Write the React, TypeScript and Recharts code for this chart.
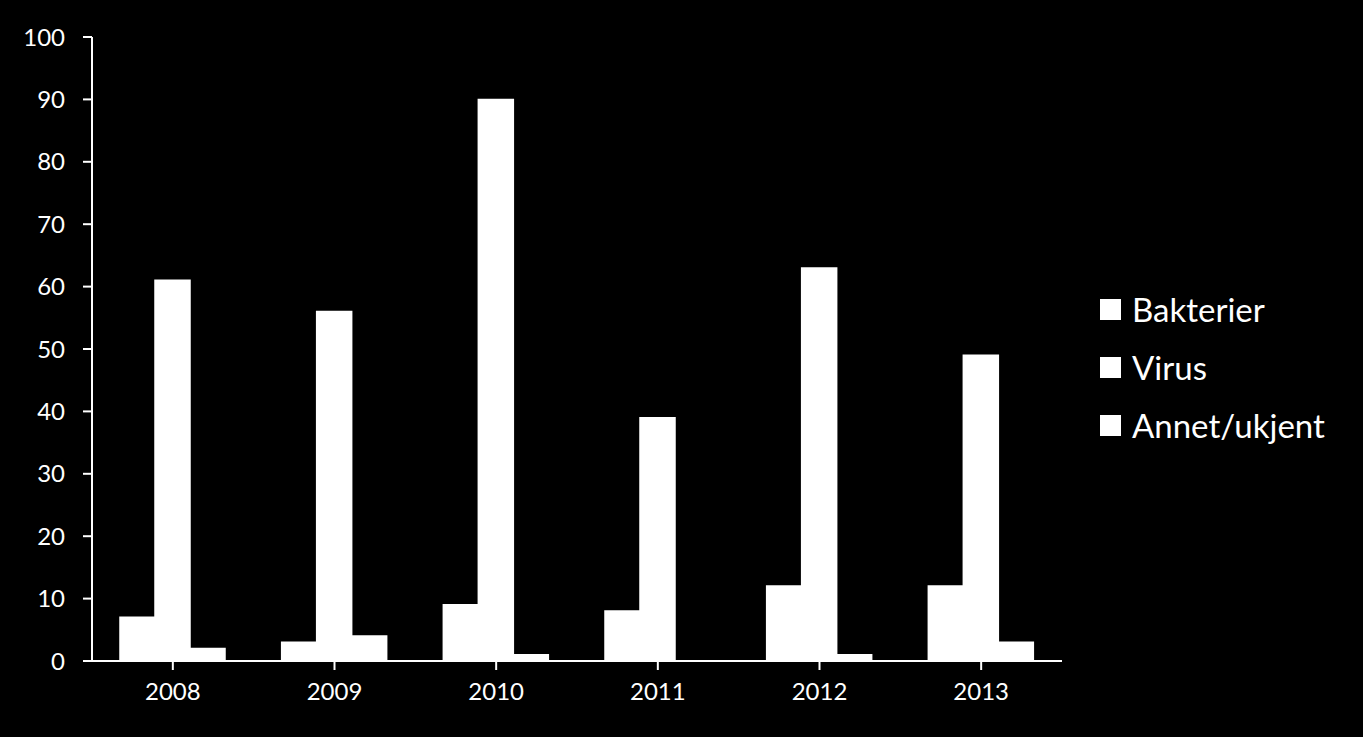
import React from "react";
import {
  BarChart,
  Bar,
  XAxis,
  YAxis,
  Legend,
} from "recharts";

const years = ["2008", "2009", "2010", "2011", "2012", "2013"];
const bakterier = [7, 3, 9, 8, 12, 12];
const virus = [61, 56, 90, 39, 63, 49];
const annet = [2, 4, 1, 0, 1, 3];
const yTicks = [0, 10, 20, 30, 40, 50, 60, 70, 80, 90, 100];
const seriesNames = ["Bakterier", "Virus", "Annet/ukjent"];

const data = years.map((year, i) => ({
  year,
  Bakterier: bakterier[i],
  Virus: virus[i],
  "Annet/ukjent": annet[i],
}));

const FONT = "Lato, 'Open Sans', sans-serif";

function LegendBox(props: any) {
  const payload = props.payload || [];
  const ordered = seriesNames
    .map((name) => payload.find((p: any) => p.value === name))
    .filter(Boolean);
  return (
    <div style={{ fontFamily: FONT }}>
      {ordered.map((entry: any) => (
        <div
          key={entry.value}
          style={{ display: "flex", alignItems: "center", height: 58 }}
        >
          <span
            style={{
              display: "inline-block",
              width: 21,
              height: 21,
              background: "#ffffff",
              marginRight: 11,
            }}
          />
          <span style={{ color: "#ffffff", fontSize: 33 }}>{entry.value}</span>
        </div>
      ))}
    </div>
  );
}

export default function App() {
  return (
    <div
      style={{
        position: "absolute",
        left: 0,
        top: 0,
        width: 1363,
        height: 737,
        background: "#000000",
      }}
    >
      <BarChart
        width={1363}
        height={737}
        data={data}
        margin={{ top: 37, right: 301, bottom: 36, left: 0 }}
        barCategoryGap={28}
        barGap={0}
      >
        <XAxis
          dataKey="year"
          height={40}
          stroke="#ffffff"
          strokeWidth={2}
          tickSize={9}
          tickMargin={13}
          tick={{ fill: "#ffffff", fontSize: 24, fontFamily: FONT }}
        />
        <YAxis
          width={92}
          domain={[0, 100]}
          ticks={yTicks}
          interval={0}
          stroke="#ffffff"
          strokeWidth={2}
          tickSize={9}
          tickMargin={18}
          tick={{ fill: "#ffffff", fontSize: 24, fontFamily: FONT }}
        />
        <Legend
          layout="vertical"
          align="center"
          verticalAlign="middle"
          content={<LegendBox />}
          wrapperStyle={{ left: 1100, top: 280, width: 262 }}
        />
        <Bar dataKey="Bakterier" fill="#ffffff" stroke="#ffffff" strokeWidth={1.5} isAnimationActive={false} />
        <Bar dataKey="Virus" fill="#ffffff" stroke="#ffffff" strokeWidth={1.5} isAnimationActive={false} />
        <Bar dataKey="Annet/ukjent" fill="#ffffff" stroke="#ffffff" strokeWidth={1.5} isAnimationActive={false} />
      </BarChart>
    </div>
  );
}
